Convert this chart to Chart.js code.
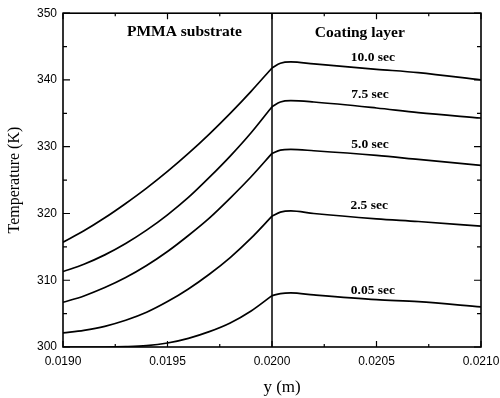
<!DOCTYPE html>
<html>
<head>
<meta charset="utf-8">
<script src="https://cdn.jsdelivr.net/npm/chart.js@4/dist/chart.umd.min.js"></script>
<style>
  html, body { margin: 0; padding: 0; background: #fff; }
  #chart { display: block; }
</style>
</head>
<body>
<canvas id="chart" width="500" height="398"></canvas>
<script>
// *** temperature profiles across substrate / coating ***
const Y_POS = [0.0190, 0.0191, 0.0192, 0.0193, 0.0194, 0.0195, 0.0196, 0.0197, 0.0198, 0.0199,
               0.0200, 0.02004, 0.02009, 0.0202, 0.0205, 0.0207, 0.0210];
const INTERFACE_IDX = 10;   // index of y = 0.0200 in Y_POS

const T_005 = [300.0, 300.0, 300.0, 300.05, 300.2, 300.6, 301.3, 302.3, 303.6, 305.4,
               307.7, 308.0, 308.1, 307.8, 307.1, 306.8, 306.0];
const T_25  = [302.1, 302.5, 303.1, 304.0, 305.2, 306.8, 308.7, 310.9, 313.4, 316.3,
               319.6, 320.2, 320.4, 320.0, 319.2, 318.8, 318.1];
const T_50  = [306.7, 307.65, 308.9, 310.4, 312.2, 314.3, 316.7, 319.3, 322.3, 325.5,
               329.0, 329.5, 329.6, 329.4, 328.7, 328.1, 327.2];
const T_75  = [311.3, 312.4, 313.8, 315.5, 317.5, 319.8, 322.4, 325.4, 328.6, 332.1,
               336.0, 336.7, 336.9, 336.7, 335.8, 335.1, 334.3];
const T_100 = [315.7, 317.4, 319.35, 321.5, 323.8, 326.3, 329.0, 331.9, 335.0, 338.3,
               341.8, 342.5, 342.7, 342.4, 341.6, 341.1, 340.0];

const SERIES_NAMES = ["0.05 sec", "2.5 sec", "5.0 sec", "7.5 sec", "10.0 sec"];
const SERIES = [T_005, T_25, T_50, T_75, T_100];

// label anchors (x in m, y in K)
const LABEL_X = [0.020483, 0.020465, 0.020469, 0.020469, 0.020483];
const LABEL_T = [308.4, 321.2, 330.3, 337.8, 343.3];

const INTERFACE_Y = 0.0200;
const REGION_NAMES = ["PMMA substrate", "Coating layer"];
const REGION_X = [0.019581, 0.020420];
const REGION_T = [347.2, 347.1];

const X_MIN = 0.0190, X_MAX = 0.0210, X_STEP = 0.0005, X_MINOR = 0.00025;
const Y_MIN = 300, Y_MAX = 350, Y_STEP = 10, Y_MINOR = 5;
const X_TITLE = 'y (m)';
const X_TITLE_AT = 0.020048;

const SERIF = "'Liberation Serif', 'DejaVu Serif', serif";
const SANS = "'Liberation Sans', Arial, sans-serif";

// *** frame, inward ticks, interface line and text ***
const framePlugin = {
    id: 'frame',
    afterDatasetsDraw(chart) {
        const ctx = chart.ctx;
        const xs = chart.scales.x, ys = chart.scales.y;
        const a = chart.chartArea;
        ctx.save();
        ctx.strokeStyle = '#000';

        // interface between substrate and coating
        ctx.lineWidth = 1.5;
        const xi = xs.getPixelForValue(INTERFACE_Y);
        ctx.beginPath();
        ctx.moveTo(xi, a.top);
        ctx.lineTo(xi, a.bottom);
        ctx.stroke();

        // ticks on all four sides
        ctx.lineWidth = 1.2;
        ctx.beginPath();
        for (let v = X_MIN; v <= X_MAX + 1e-9; v += X_MINOR) {
            const p = xs.getPixelForValue(v);
            const major = Math.abs(v / X_STEP - Math.round(v / X_STEP)) < 1e-6;
            const len = major ? 6 : 3;
            ctx.moveTo(p, a.bottom); ctx.lineTo(p, a.bottom - len);
            ctx.moveTo(p, a.top); ctx.lineTo(p, a.top + len);
        }
        for (let v = Y_MIN; v <= Y_MAX; v += Y_MINOR) {
            const p = ys.getPixelForValue(v);
            const len = (v % Y_STEP === 0) ? 7 : 4;
            ctx.moveTo(a.left, p); ctx.lineTo(a.left + len, p);
            ctx.moveTo(a.right, p); ctx.lineTo(a.right - len, p);
        }
        ctx.stroke();

        // plot border
        ctx.lineWidth = 1.6;
        ctx.strokeRect(a.left, a.top, a.right - a.left, a.bottom - a.top);

        ctx.fillStyle = '#000';
        ctx.textAlign = 'center';
        ctx.textBaseline = 'middle';

        ctx.font = 'bold 15.5px ' + SERIF;
        REGION_NAMES.forEach(function (name, i) {
            ctx.fillText(name, xs.getPixelForValue(REGION_X[i]), ys.getPixelForValue(REGION_T[i]));
        });

        ctx.font = 'bold 13.5px ' + SERIF;
        SERIES_NAMES.forEach(function (name, i) {
            ctx.fillText(name, xs.getPixelForValue(LABEL_X[i]), ys.getPixelForValue(LABEL_T[i]));
        });

        // x axis title
        ctx.font = '17px ' + SERIF;
        ctx.fillText(X_TITLE, xs.getPixelForValue(X_TITLE_AT), 388);
        ctx.restore();
    }
};

// each profile is drawn as two pieces that meet at the interface (slope jumps there)
const datasets = [];
SERIES.forEach(function (vals, i) {
    const pts = vals.map(function (t, j) { return { x: Y_POS[j], y: t }; });
    [pts.slice(0, INTERFACE_IDX + 1), pts.slice(INTERFACE_IDX)].forEach(function (part) {
        datasets.push({
            label: SERIES_NAMES[i],
            data: part,
            borderColor: '#000',
            borderWidth: 1.7,
            pointRadius: 0,
            cubicInterpolationMode: 'monotone',
            fill: false
        });
    });
});

const ctx = document.getElementById('chart').getContext('2d');
new Chart(ctx, {
    type: 'line',
    data: { datasets: datasets },
    options: {
        responsive: false,
        animation: false,
        layout: { padding: { top: 12, right: 0, left: 0, bottom: 0 } },
        plugins: { legend: { display: false }, tooltip: { enabled: false } },
        scales: {
            x: {
                type: 'linear',
                min: X_MIN,
                max: X_MAX,
                afterFit: function (scale) {
                    scale.height = 51;
                    scale.paddingRight = 19;
                },
                afterBuildTicks: function (scale) {
                    const t = [];
                    for (let v = X_MIN; v <= X_MAX + 1e-9; v += X_STEP) t.push({ value: +v.toFixed(4) });
                    scale.ticks = t;
                },
                grid: { display: false, drawTicks: false },
                border: { display: false },
                ticks: {
                    padding: 7,
                    maxRotation: 0,
                    color: '#000',
                    font: { family: SANS, size: 12 },
                    callback: function (v) { return Number(v).toFixed(4); }
                }
            },
            y: {
                min: Y_MIN,
                max: Y_MAX,
                afterFit: function (scale) { scale.width = 63; },
                grid: { display: false, drawTicks: false },
                border: { display: false },
                ticks: {
                    stepSize: Y_STEP,
                    padding: 6,
                    color: '#000',
                    font: { family: SANS, size: 12 }
                },
                title: {
                    display: true,
                    text: 'Temperature (K)',
                    color: '#000',
                    font: { family: SERIF, size: 16 },
                    padding: { top: 5, bottom: 0 }
                }
            }
        }
    },
    plugins: [framePlugin]
});
</script>
</body>
</html>
